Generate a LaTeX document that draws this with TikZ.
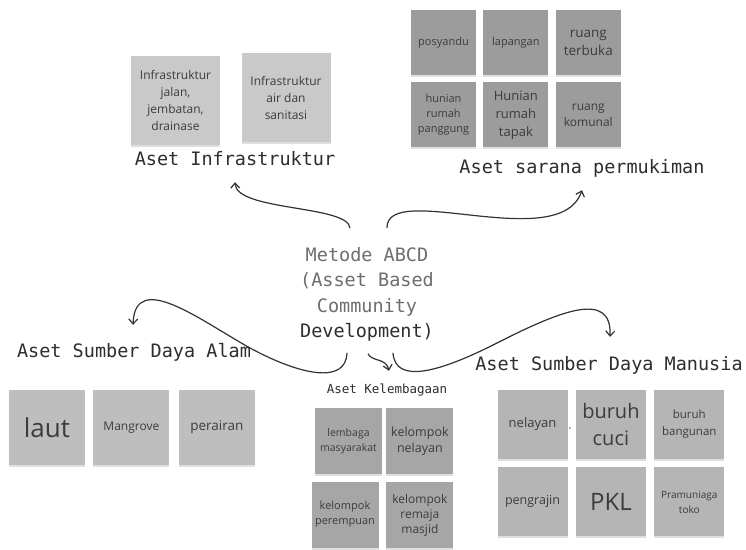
\documentclass[tikz,border=0pt]{standalone}
\usepackage{fontspec}
\setmainfont{Open Sans}
\newfontfamily\labelmono{DejaVu Sans Mono}
\usepackage{tikz}
\usetikzlibrary{arrows.meta,positioning,shadows}
\definecolor{infracol}{HTML}{C9C9C9}
\definecolor{saracol}{HTML}{9C9C9C}
\definecolor{alamcol}{HTML}{BEBEBE}
\definecolor{lembcol}{HTML}{A6A6A6}
\definecolor{sdmcol}{HTML}{B5B5B5}
\definecolor{notetext}{HTML}{3C3C3C}
\definecolor{labeltext}{HTML}{2E2E2E}
\definecolor{abcdgray}{HTML}{6E6E6E}
\definecolor{linecol}{HTML}{333333}

\begin{document}
\begin{tikzpicture}[x=1pt, y=-1pt, >={Straight Barb[length=5pt,width=9pt]},
  note/.style={inner sep=1pt, align=center, text=notetext,
    drop shadow={shadow xshift=0pt, shadow yshift=-2pt, opacity=0.25}},
  infranote/.style={note, fill=infracol, minimum width=89pt, minimum height=89pt},
  saranote/.style={note, fill=saracol, minimum width=65pt, minimum height=65pt},
  alamnote/.style={note, fill=alamcol, minimum width=76pt, minimum height=75pt},
  lembnote/.style={note, fill=lembcol, minimum width=67pt, minimum height=66pt},
  sdmnote/.style={note, fill=sdmcol, minimum width=70pt, minimum height=69pt},
  grouplabel/.style={anchor=base, inner sep=0pt, text=labeltext, text height=13pt, text depth=4pt,
    font=\labelmono\fontsize{18.5}{22}\selectfont},
  conn/.style={->, draw=linecol, line width=1.2pt}]

\fill[white] (0,0) rectangle (746,549);
\useasboundingbox (0,0) rectangle (746,549);

% Aset Infrastruktur
\node[infranote, font=\fontsize{12}{17}\selectfont] (inf1) at (175.5,100.5) {Infrastruktur\\jalan,\\jembatan,\\drainase};
\node[infranote, font=\fontsize{12}{17}\selectfont] (inf2) at (286,97.5) {Infrastruktur\\air dan\\sanitasi};
\node[grouplabel] (infra) at (235,165) {Aset Infrastruktur};

% Aset sarana permukiman
\node[saranote, font=\fontsize{11}{15}\selectfont] (sar1) at (443.5,42.5) {posyandu};
\node[saranote, font=\fontsize{11}{15}\selectfont, right=7pt of sar1] (sar2) {lapangan};
\node[saranote, font=\fontsize{13.5}{18}\selectfont, right=7pt of sar2] (sar3) {ruang\\terbuka};
\node[saranote, font=\fontsize{11}{15}\selectfont, below=7pt of sar1] (sar4) {hunian\\rumah\\panggung};
\node[saranote, font=\fontsize{13}{18}\selectfont, below=7pt of sar2] (sar5) {Hunian\\rumah\\tapak};
\node[saranote, font=\fontsize{12}{16}\selectfont, below=7pt of sar3] (sar6) {ruang\\komunal};
\node[grouplabel] (sarlabel) at (582,173) {Aset sarana permukiman};

% pusat
\node[anchor=north, inner sep=0pt, align=center, text=abcdgray,
  font=\labelmono\fontsize{18.5}{25.5}\selectfont] (abcd) at (367,247)
  {Metode ABCD\\(Asset Based\\Community\\\textcolor{labeltext}{Development)}};

% Aset Sumber Daya Alam
\node[grouplabel] (alamlabel) at (134,357) {Aset Sumber Daya Alam};
\node[alamnote, font=\fontsize{26}{30}\selectfont] (alam1) at (47,427.5) {laut};
\node[alamnote, font=\fontsize{12}{16}\selectfont, right=8pt of alam1] (alam2) {Mangrove};
\node[alamnote, font=\fontsize{13.5}{17}\selectfont, right=9pt of alam2] (alam3) {perairan};

% Aset Kelembagaan
\node[grouplabel, text height=9pt, text depth=3pt, font=\labelmono\fontsize{12.5}{15}\selectfont] (lemblabel) at (387,393) {Aset Kelembagaan};
\node[lembnote, font=\fontsize{10.5}{15}\selectfont] (lemb1) at (348.5,441) {lembaga\\masyarakat};
\node[lembnote, font=\fontsize{12.5}{16}\selectfont, right=4pt of lemb1] (lemb2) {kelompok\\nelayan};
\node[lembnote, font=\fontsize{11}{15}\selectfont] (lemb3) at (345,514.5) {kelompok\\perempuan};
\node[lembnote, font=\fontsize{12}{15}\selectfont, below=8pt of lemb2] (lemb4) {kelompok\\remaja\\masjid};

% Aset Sumber Daya Manusia
\node[grouplabel] (sdmlabel) at (609,370) {Aset Sumber Daya Manusia};
\node[sdmnote, font=\fontsize{13}{17}\selectfont] (sdm1) at (532.5,424.5) {nelayan};
\node[sdmnote, font=\fontsize{20}{27}\selectfont, right=8pt of sdm1] (sdm2) {buruh\\cuci};
\node[sdmnote, font=\fontsize{11.5}{17}\selectfont, right=8pt of sdm2] (sdm3) {buruh\\bangunan};
\node[sdmnote, font=\fontsize{12.5}{16}\selectfont, below=8pt of sdm1] (sdm4) {pengrajin};
\node[sdmnote, font=\fontsize{24}{28}\selectfont, below=8pt of sdm2] (sdm5) {PKL};
\node[sdmnote, font=\fontsize{10}{15}\selectfont, below=8pt of sdm3] (sdm6) {Pramuniaga\\toko};
\fill[notetext!80] (570,428) circle (0.9pt);

% panah
\coordinate (alamturn) at (250,348);
\coordinate (sdmturn) at (497,343);
\draw[conn] ([xshift=-17pt,yshift=19pt]abcd.north) .. controls +(-2,-23) and +(1,29) .. ([yshift=-13pt]infra.south);
\draw[conn] ([xshift=20pt,yshift=19pt]abcd.north) .. controls +(-1,-48) and +(-22,65) .. ([yshift=-13pt]sarlabel.south);
\draw[conn] ([xshift=-20pt,yshift=-11pt]abcd.south) .. controls +(-1,32) and +(50,27) .. (alamturn)
  .. controls +(-50,-28) and +(2,-55) .. ([xshift=-1pt,yshift=19pt]alamlabel.north);
\draw[conn] ([xshift=26pt,yshift=-11pt]abcd.south) .. controls +(2,32) and +(-57,29) .. (sdmturn)
  .. controls +(63,-32) and +(2,-47) .. ([xshift=1pt,yshift=20pt]sdmlabel.north);
\draw[conn] ([xshift=1pt,yshift=-12pt]abcd.south) .. controls +(4,8) and +(-3,-13) .. ([xshift=2pt,yshift=13pt]lemblabel.north);
\end{tikzpicture}
\end{document}
